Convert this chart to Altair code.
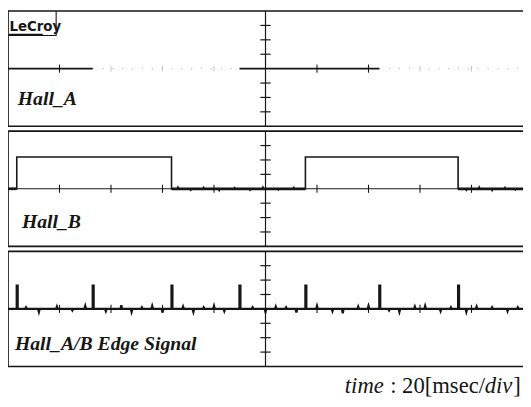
import altair as alt
import pandas as pd

# ---- data (time in ms, level in divisions) ----
T_MAX = 200                      # 10 div x 20 ms/div
hall_a_edges = [32.9, 89.9, 144.2]          # Hall_A transitions
hall_b_rise = [3.4, 115.5]                  # Hall_B rising edges
hall_b_fall = [63.5, 174.8]                 # Hall_B falling edges
hall_b_high = 2.2                           # Hall_B high level (div)
spike_height = 1.62                         # edge pulse height (div)

# small glitches seen on the noisy traces
b_noise_t = [66, 71, 76, 82, 88, 94, 99, 105, 111, 178, 183, 188, 193, 197]
b_noise_v = [0.12, -0.1, 0.1, -0.12, 0.08, -0.1, 0.12, -0.08, 0.1, -0.1, 0.12, -0.12, 0.1, -0.08]
e_noise_t = [7, 12, 19, 25, 30, 38, 44, 48, 52, 56, 60, 68, 72, 76, 80, 84, 95, 100,
             104, 108, 112, 120, 126, 130, 136, 140, 148, 152, 158, 162, 168, 172,
             178, 182, 188, 194, 198]
e_noise_v = [0.1, -0.2, 0.15, -0.1, 0.2, -0.15, 0.25, -0.2, 0.1, 0.2, -0.25, 0.15,
             -0.2, 0.1, 0.2, -0.15, 0.1, -0.2, 0.15, 0.1, -0.25, 0.2, -0.15, -0.3,
             0.15, 0.2, -0.1, -0.2, 0.15, 0.2, -0.15, 0.1, -0.2, 0.15, 0.1, -0.15, 0.1]

h_tick_t = [20, 40, 60, 80, 120, 140, 160, 180]
v_tick_v = [-3, -2, -1, 1, 2, 3]
panel_labels = ["Hall_A", "Hall_B", "Hall_A/B Edge Signal"]
label_t = [3.8, 5.4, 2.7]
label_v = [-2.5, -2.7, -2.84]
caption_parts = ["time", ": 20[msec/", "div", "]"]
caption_italic = [True, False, True, False]
caption_t = [130.8, 148.4, 185.1, 196.2]
caption_v = -5.85

W, HT = 523, 395
PX_PER_DIV = 14.625
STEP = 8 + 5 / PX_PER_DIV          # one panel (8 div) plus the gap between panels
Y_MIN = 4 - HT / PX_PER_DIV
INK = "#161616"
FAINT = "#c4c4c4"

X = alt.X("t:Q", scale=alt.Scale(domain=[0, T_MAX]), axis=None)
Y = alt.Y("y:Q", scale=alt.Scale(domain=[Y_MIN, 4]), axis=None)


def segs(panel, segments):
    """segments: list of point lists [(t, v), ...] inside a panel."""
    rows, i = [], 0
    for g, pts in enumerate(segments):
        for t, v in pts:
            rows.append({"t": t, "y": v - panel * STEP, "g": g, "i": i})
            i += 1
    return pd.DataFrame(rows)


def lines(df, width=1.2, color=INK, dash=None):
    kw = dict(color=color, strokeWidth=width, clip=False)
    if dash:
        kw["strokeDash"] = dash
    return alt.Chart(df).mark_line(**kw).encode(x=X, y=Y, detail="g:N", order="i:Q")


def trace(panel, points):
    pts = [(t, v) for t, s, v in sorted(points)]
    return segs(panel, [pts])


def text_layer(df, size, italic, bold=False, font="Liberation Serif"):
    kw = dict(align="left", baseline="alphabetic", font=font, fontSize=size, color=INK)
    if italic:
        kw["fontStyle"] = "italic"
    if bold:
        kw["fontWeight"] = "bold"
    return alt.Chart(df).mark_text(**kw).encode(x=X, y=Y, text="txt:N")


layers = []
for k in range(3):
    # panel border (left, top, bottom; right edge falls at the picture edge)
    layers.append(lines(segs(k, [[(T_MAX, 4), (0, 4), (0, -4), (T_MAX, -4)]]), width=1.7))
    # vertical centre axis with its division ticks
    layers.append(lines(segs(k, [[(100, -4), (100, 4)]] +
                            [[(98, v), (102, v)] for v in v_tick_v]), width=1.2))
    # labels
    layers.append(text_layer(pd.DataFrame({"t": [label_t[k]], "y": [label_v[k] - k * STEP],
                                           "txt": [panel_labels[k]]}), 20, True, True))

# ---- panel 1 : Hall_A ----
solid1 = [t for t in h_tick_t if t < hall_a_edges[0] or hall_a_edges[1] < t < hall_a_edges[2]]
faint1 = [t for t in h_tick_t if t not in solid1]
layers.append(lines(segs(0, [[(hall_a_edges[0], 0), (hall_a_edges[1], 0)],
                             [(hall_a_edges[2], 0), (T_MAX, 0)]]), width=1, color="#a8a8a8", dash=[1, 9]))
layers.append(lines(segs(0, [[(t, -0.2), (t, 0.2)] for t in faint1]), width=1, color=FAINT))
layers.append(lines(segs(0, [[(t, -0.28), (t, 0.28)] for t in solid1]), width=1.1))
layers.append(lines(segs(0, [[(0, 0), (hall_a_edges[0], 0)],
                             [(hall_a_edges[1], 0), (hall_a_edges[2], 0)]]), width=1.6))
# LeCroy tab
layers.append(lines(segs(0, [[(0, 2.3), (18.7, 2.3), (18.7, 4)]]), width=1.1))
layers.append(lines(segs(0, [[(0.4, 2.35), (13.5, 2.35)]]), width=2.2))
layers.append(text_layer(pd.DataFrame({"t": [0.6], "y": [2.62], "txt": ["LeCroy"]}), 15, False, True,
                         font="Liberation Sans Narrow, DejaVu Sans Condensed, sans-serif"))

# ---- panel 2 : Hall_B ----
layers.append(lines(segs(1, [[(0, 0), (T_MAX, 0)]]), width=1))
layers.append(lines(segs(1, [[(t, -0.28), (t, 0.28)] for t in h_tick_t]), width=1.1))
pts_b = [(0, 0, 0.0)]
for e in hall_b_rise:
    pts_b += [(e, 0, 0.0), (e, 1, hall_b_high)]
for e in hall_b_fall:
    pts_b += [(e, 0, hall_b_high), (e, 1, 0.0)]
for t, v in zip(b_noise_t, b_noise_v):
    pts_b += [(t - 0.3, 0, 0.0), (t, 0, v), (t + 0.3, 0, 0.0)]
pts_b.append((T_MAX, 0, 0.0))
layers.append(lines(segs(1, [[(0, 0), (hall_b_rise[0], 0)],
                             [(hall_b_fall[0], 0), (hall_b_rise[1], 0)],
                             [(hall_b_fall[1], 0), (T_MAX, 0)]]), width=2.8))
layers.append(lines(trace(1, pts_b), width=1.6))

# ---- panel 3 : Hall_A/B edge signal ----
layers.append(lines(segs(2, [[(t, -0.28), (t, 0.28)] for t in h_tick_t]), width=1.1))
spikes = sorted(hall_a_edges + hall_b_rise + hall_b_fall)
pts_e = [(0, 0, 0.0)]
for e in spikes:
    pts_e += [(e, 0, 0.0), (e, 1, spike_height), (e + 0.35, 0, spike_height), (e + 0.35, 1, 0.0)]
for t, v in zip(e_noise_t, e_noise_v):
    pts_e += [(t - 0.3, 0, 0.0), (t, 0, v), (t + 0.3, 0, 0.0)]
pts_e.append((T_MAX, 0, 0.0))
layers.append(lines(trace(2, pts_e), width=2.3))

# caption
for k in range(4):
    layers.append(text_layer(pd.DataFrame({"t": [caption_t[k]], "y": [caption_v - 2 * STEP],
                                           "txt": [caption_parts[k]]}), 23, caption_italic[k]))

chart = alt.layer(*layers).properties(
    width=W, height=HT, padding=0, background="white",
    autosize=alt.AutoSizeParams(type="none"),
).configure_view(stroke=None)

chart.save("out.html", embed_options={"renderer": "svg", "actions": False})
